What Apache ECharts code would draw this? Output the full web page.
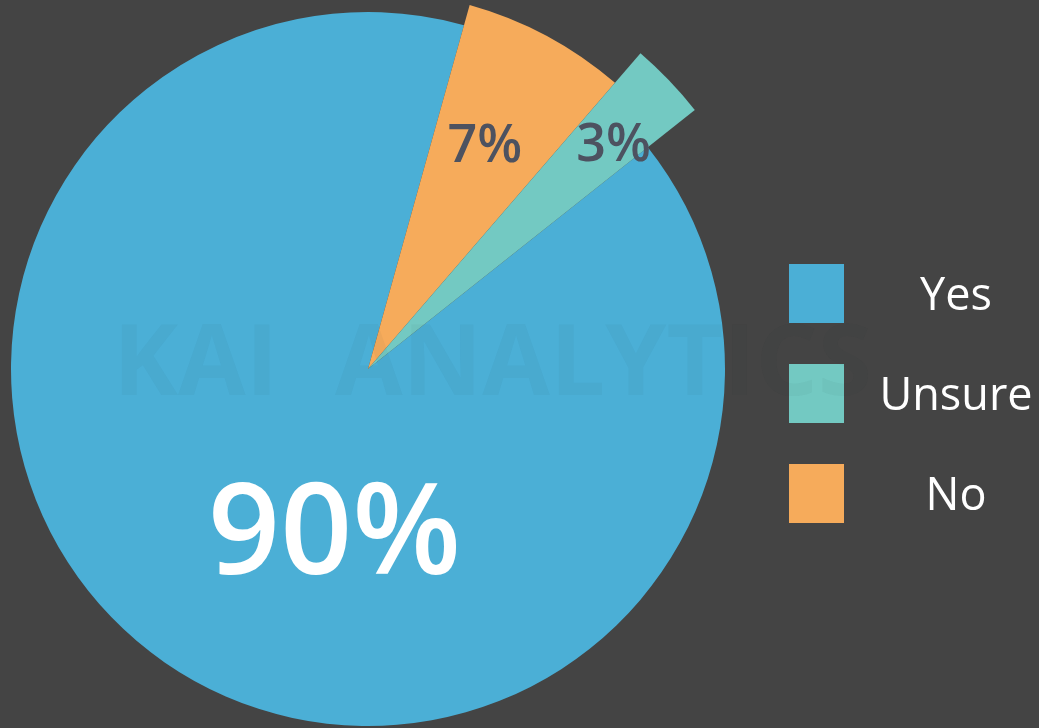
<!DOCTYPE html>
<html>
<head>
<meta charset="utf-8">
<script src="https://cdn.jsdelivr.net/npm/echarts@6/dist/echarts.min.js"></script>
<style>
  html, body { margin: 0; padding: 0; background: #444444; }
  #chart { width: 1039px; height: 728px; }
</style>
</head>
<body>
<div id="chart"></div>
<script>
// ---- data ----
const categories = ['No', 'Unsure', 'Yes'];
const values = [7, 3, 90];
const legendOrder = ['Yes', 'Unsure', 'No'];
const watermarkParts = ['KAI', 'ANALYTICS'];

// ---- style ----
const COLORS = { Yes: '#4bafd6', Unsure: '#73c9c2', No: '#f6ab5b' };
const RADIUS = { Yes: 357, No: 378, Unsure: 417 };
const LABEL_STYLE = {
  Yes:    { color: '#ffffff', fontSize: 126, fontWeight: 600 },
  No:     { color: '#4d5260', fontSize: 52, fontWeight: 600 },
  Unsure: { color: '#4d5260', fontSize: 52, fontWeight: 600 }
};
const LABEL_SHIFT = { Yes: [67, 18], No: [26, -53], Unsure: [93, -76] };
const layerOrder = ['Yes', 'No', 'Unsure'];
const CENTER = [368, 369];
const START = 74.4;

const chart = echarts.init(document.getElementById('chart'), null, { renderer: 'canvas' });

const series = layerOrder.map(target => ({
  type: 'pie',
  name: target,
  center: CENTER,
  radius: [0, RADIUS[target]],
  startAngle: START,
  clockwise: true,
  avoidLabelOverlap: false,
  silent: true,
  animation: false,
  itemStyle: { borderWidth: 0 },
  labelLine: { show: false },
  emphasis: { disabled: true },
  labelLayout: { dx: LABEL_SHIFT[target][0], dy: LABEL_SHIFT[target][1] },
  data: categories.map((c, i) => ({
    name: c,
    value: values[i],
    itemStyle: { color: c === target ? COLORS[c] : 'rgba(0,0,0,0)' },
    label: Object.assign({
      show: c === target,
      position: 'inside',
      fontFamily: 'Open Sans',
      formatter: '{c}%'
    }, LABEL_STYLE[c])
  }))
}));

const option = {
  backgroundColor: '#444444',
  animation: false,
  legend: {
    orient: 'vertical',
    left: 784,
    top: 259,
    itemWidth: 55,
    itemHeight: 59,
    itemGap: 41,
    icon: 'rect',
    selectedMode: false,
    data: legendOrder.map(n => ({ name: n, itemStyle: { color: COLORS[n], borderWidth: 0 } })),
    formatter: name => '{t|' + name + '}',
    textStyle: {
      color: '#ffffff',
      fontFamily: 'Open Sans',
      fontSize: 45,
      rich: {
        t: { width: 214, align: 'center', padding: [8, 0, 0, 0], color: '#ffffff', fontFamily: 'Open Sans', fontSize: 45 }
      }
    }
  },
  graphic: [
    {
      type: 'text', left: 113, top: 318, z: 100, silent: true,
      style: { text: watermarkParts[0], font: 'bold 98px "Open Sans"', fill: 'rgba(20,40,60,0.04)' }
    },
    {
      type: 'text', left: 335, top: 318, z: 100, silent: true,
      style: { text: watermarkParts[1], font: 'bold 98px "Open Sans"', fill: 'rgba(20,40,60,0.04)' }
    }
  ],
  series: series
};

chart.setOption(option);
</script>
</body>
</html>
